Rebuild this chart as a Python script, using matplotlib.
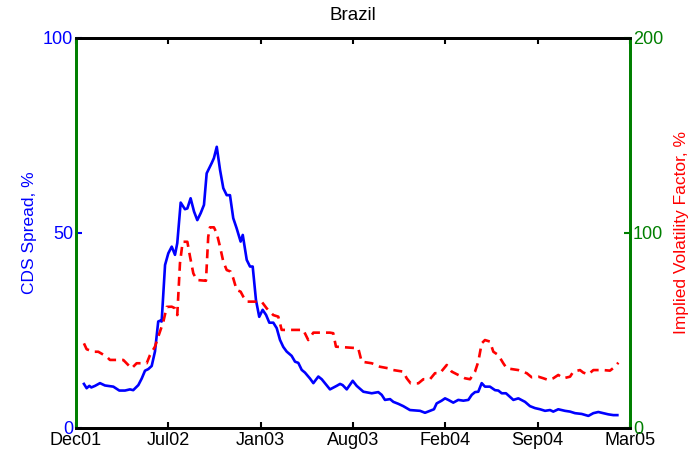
import numpy as np
import matplotlib
matplotlib.use("Agg")
import matplotlib.pyplot as plt

plt.rcParams['font.family'] = ['Liberation Sans', 'DejaVu Sans']

# months since Dec 2001
cds_t = [0.56, 0.75, 0.94, 1.08, 1.34, 1.69, 2.04, 2.63, 3.05, 3.45, 3.80, 4.03, 4.39, 4.63, 4.86,
         5.09, 5.33, 5.56, 5.79, 5.91, 6.03, 6.27, 6.50, 6.74, 6.97, 7.13, 7.37, 7.67, 7.84, 8.07,
         8.31, 8.54, 8.78, 9.01, 9.20, 9.55, 9.71, 9.91, 10.14, 10.37, 10.61, 10.84, 11.07, 11.31,
         11.59, 11.74, 12.02, 12.25, 12.44, 12.67, 12.90, 13.14, 13.38, 13.61, 13.89, 14.13, 14.36,
         14.59, 14.83, 15.18, 15.42, 15.65, 15.89, 16.12, 16.47, 16.71, 17.06, 17.30, 17.88, 18.35,
         18.59, 18.77, 19.06, 19.48, 19.76, 20.23, 20.82, 21.28, 21.52, 21.75, 22.11, 22.34, 22.69,
         23.04, 23.51, 24.22, 24.57, 24.92, 25.20, 25.39, 25.74, 25.98, 26.21, 26.56, 26.91, 27.27,
         27.62, 27.86, 28.09, 28.32, 28.56, 28.79, 29.14, 29.50, 29.73, 29.97, 30.27, 30.55, 30.79,
         31.14, 31.61, 31.96, 32.31, 32.67, 33.02, 33.37, 33.60, 33.95, 34.42, 34.78, 35.13, 35.60,
         36.07, 36.42, 36.77, 37.12, 37.47, 37.83, 38.11]
cds = [11.3, 10.2, 10.8, 10.4, 10.8, 11.5, 10.9, 10.6, 9.6, 9.6, 9.9, 9.7, 11.0, 12.7, 14.7,
       15.1, 15.9, 19.6, 27.3, 27.5, 27.3, 41.8, 44.8, 46.5, 44.4, 47.4, 57.8, 56.1, 56.3, 58.9,
       55.5, 53.3, 55.1, 57.2, 65.3, 67.9, 69.2, 72.1, 66.2, 61.5, 59.7, 59.7, 53.8, 51.2,
       47.8, 49.5, 43.1, 41.4, 41.4, 32.8, 28.5, 30.3, 29.0, 27.0, 27.0, 25.6, 22.6,
       20.8, 19.6, 18.5, 17.0, 16.7, 14.9, 14.2, 12.7, 11.5, 13.2, 12.5, 9.9, 10.8,
       11.3, 11.0, 9.9, 12.1, 10.8, 9.3, 8.9, 9.2, 8.5, 7.2, 7.4, 6.7, 6.2,
       5.6, 4.6, 4.4, 3.9, 4.4, 4.8, 6.3, 7.0, 7.6, 7.2, 6.5, 7.2, 7.0,
       7.2, 8.5, 9.2, 9.3, 11.5, 10.6, 10.6, 9.7, 9.6, 8.9, 8.9, 8.0, 7.2,
       7.6, 6.7, 5.6, 5.1, 4.8, 4.4, 4.6, 4.2, 4.8, 4.4, 4.2, 3.8, 3.6,
       3.1, 3.8, 4.1, 3.8, 3.5, 3.3, 3.3]

ivf_t = [0.56, 0.75, 1.22, 1.57, 2.16, 2.39, 3.33, 3.68, 3.92, 4.27, 4.98, 5.21, 5.56, 5.79, 6.15,
         6.39, 6.74, 6.97, 7.13, 7.32, 7.51, 7.84, 8.03, 8.26, 8.50, 9.15, 9.31, 9.43, 9.71, 9.91,
         10.14, 10.37, 10.61, 10.89, 11.07, 11.31, 11.59, 11.78, 12.02, 13.07, 13.42, 13.89, 14.24,
         14.48, 16.00, 16.35, 16.71, 17.88, 18.11, 18.30, 19.87, 20.11, 20.82, 21.40, 21.99, 22.34,
         23.04, 23.28, 23.56, 24.10, 24.45, 24.92, 25.27, 25.62, 26.10, 26.45, 26.91, 27.38, 27.74,
         28.09, 28.32, 28.56, 28.79, 29.14, 29.38, 29.73, 30.08, 30.32, 31.14, 31.73, 32.08, 32.55,
         32.90, 33.25, 33.60, 33.95, 34.31, 34.78, 35.01, 35.48, 35.71, 36.07, 36.42, 37.12, 37.59,
         37.94, 38.18]
ivf = [43.4, 40.4, 39.1, 39.1, 36.6, 34.9, 34.9, 32.3, 30.6, 33.2, 33.2, 37.4, 41.7, 46.8, 54.5,
       62.1, 62.2, 61.4, 57.9, 84.5, 95.5, 95.5, 87.8, 79.3, 75.9, 75.5, 98.1, 102.9, 102.9, 99.8,
       93.0, 85.3, 81.0, 80.2, 76.8, 70.8, 69.9, 67.3, 64.8, 64.8, 61.4, 57.9, 57.1,
       50.3, 50.3, 45.1, 48.9, 48.9, 48.6, 41.7, 40.9, 34.0, 33.2, 31.4, 30.6, 29.7,
       28.9, 25.5, 22.9, 22.9, 25.0, 25.0, 28.1, 28.1, 32.3, 28.9, 27.2, 25.5, 25.0,
       28.9, 34.0, 43.4, 45.1, 44.3, 39.1, 37.4, 33.2, 30.6, 29.7, 28.1, 26.0, 26.3,
       25.5, 24.6, 25.5, 27.2, 25.5, 26.3, 28.9, 29.7, 28.4, 27.5, 29.7, 29.7, 29.4,
       31.4, 33.5]

tick_pos = [0, 6.5, 13, 19.5, 26, 32.5, 39]
tick_labels = ['Dec01', 'Jul02', 'Jan03', 'Aug03', 'Feb04', 'Sep04', 'Mar05']

fig = plt.figure(figsize=(6.92, 4.54), dpi=100)
ax = fig.add_axes([0.1098, 0.0573, 0.8006, 0.859])
ax2 = ax.twinx()

ax.plot(cds_t, cds, color='#0000ff', lw=1.9)
ax2.plot(ivf_t, ivf, color='#ff0000', lw=1.9, dashes=(3.4, 2.3))

ax.set_xlim(0, 39)
ax.set_ylim(0, 100)
ax2.set_ylim(0, 200)
ax.set_yticks([0, 50, 100])
ax2.set_yticks([0, 100, 200])
ax.set_xticks(tick_pos)
ax.set_xticklabels(tick_labels, fontsize=13)

ax.tick_params(axis='x', direction='in', top=True, length=4, width=1.5, pad=3)
ax.tick_params(axis='y', direction='in', colors='#0000ff', labelsize=13, length=4, width=1.5, pad=2)
ax2.tick_params(axis='y', direction='in', colors='#007f00', labelsize=13, length=4, width=1.5, pad=2)
for t in ax.get_yticklines():
    t.set_color('#007f00')

for a in (ax, ax2):
    a.spines['top'].set_linewidth(2)
    a.spines['bottom'].set_linewidth(2)
    a.spines['left'].set_color('#007f00')
    a.spines['right'].set_color('#007f00')
    a.spines['left'].set_linewidth(2)
    a.spines['right'].set_linewidth(2)

ax.set_ylabel('CDS Spread, %', color='#0000ff', fontsize=12.5, labelpad=4)
ax2.set_ylabel('Implied Volatility Factor, %', color='#ff0000', fontsize=12.5, labelpad=8)
ax.set_title('Brazil', fontsize=13.5, pad=13)

fig.savefig('out.png', dpi=100)
